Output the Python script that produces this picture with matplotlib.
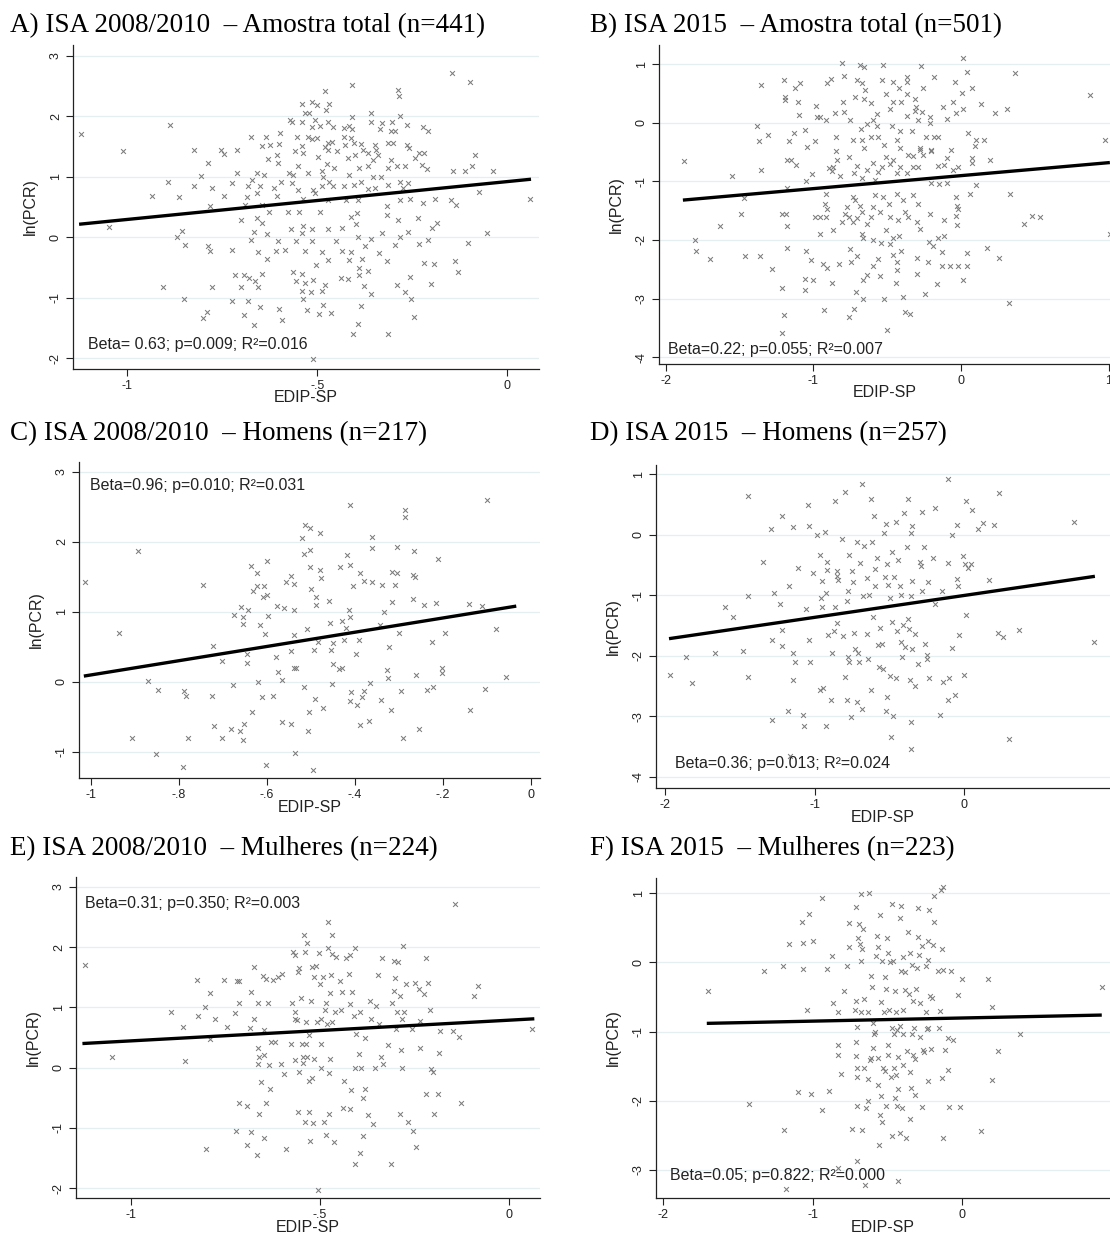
import numpy as np
import matplotlib
matplotlib.use("Agg")
import matplotlib.pyplot as plt

W, H = 1110, 1234

# ---- data (EDIP-SP, ln(PCR)) ----
a_pts = [
    (-1.122, 1.70), (-0.888, 1.86), (-1.011, 1.43), (-0.146, 2.72), (-0.098, 2.57), (-0.41, 2.51),
    (-0.479, 2.41), (-0.287, 2.44), (-0.285, 2.34), (-0.541, 2.21), (-0.513, 2.23), (-0.502, 2.19),
    (-0.469, 2.20), (-0.477, 2.10), (-0.532, 2.06), (-0.521, 2.06), (-0.36, 2.06), (-0.282, 2.01),
    (-0.41, 1.99), (-0.566, 1.90), (-0.572, 1.93), (-0.541, 1.91), (-0.506, 1.94), (-0.471, 1.90),
    (-0.458, 1.82), (-0.515, 1.82), (-0.493, 1.84), (-0.43, 1.80), (-0.418, 1.84), (-0.41, 1.79),
    (-0.358, 1.91), (-0.335, 1.79), (-0.331, 1.88), (-0.304, 1.91), (-0.306, 1.76), (-0.295, 1.75),
    (-0.265, 1.86), (-0.221, 1.82), (-0.208, 1.75), (-0.675, 1.66), (-0.634, 1.65), (-0.598, 1.72),
    (-0.554, 1.66), (-0.524, 1.66), (-0.513, 1.62), (-0.502, 1.64), (-0.429, 1.66), (-0.411, 1.64),
    (-0.471, 1.55), (-0.462, 1.58), (-0.480, 1.49), (-0.427, 1.53), (-0.405, 1.55), (-0.385, 1.54),
    (-0.646, 1.50), (-0.624, 1.53), (-0.6, 1.54), (-0.541, 1.51), (-0.824, 1.45), (-0.754, 1.45),
    (-0.745, 1.38), (-0.712, 1.44), (-0.559, 1.42), (-0.537, 1.40), (-0.499, 1.33), (-0.471, 1.44),
    (-0.449, 1.43), (-0.379, 1.44), (-0.368, 1.39), (-0.349, 1.53), (-0.345, 1.44), (-0.34, 1.36),
    (-0.314, 1.55), (-0.301, 1.55), (-0.263, 1.53), (-0.26, 1.47), (-0.232, 1.39), (-0.219, 1.39),
    (-0.085, 1.36), (-0.629, 1.29), (-0.606, 1.36), (-0.603, 1.22), (-0.42, 1.31), (-0.402, 1.36),
    (-0.355, 1.28), (-0.306, 1.28), (-0.291, 1.17), (-0.269, 1.17), (-0.243, 1.31), (-0.225, 1.20),
    (-0.092, 1.18), (-0.789, 1.23), (-0.806, 1.01), (-0.712, 1.07), (-0.66, 1.06), (-0.64, 1.03),
    (-0.575, 1.07), (-0.563, 1.03), (-0.552, 1.17), (-0.524, 1.06), (-0.489, 1.09), (-0.475, 1.21),
    (-0.484, 1.00), (-0.456, 1.14), (-0.418, 1.03), (-0.39, 1.14), (-0.368, 1.17), (-0.354, 1.00),
    (-0.332, 1.00), (-0.314, 1.14), (-0.212, 1.12), (-0.142, 1.10), (-0.111, 1.09), (-0.037, 1.09),
    (-0.894, 0.92), (-0.824, 0.85), (-0.778, 0.81), (-0.725, 0.90), (-0.673, 0.95), (-0.651, 0.84),
    (-0.682, 0.84), (-0.614, 0.81), (-0.596, 0.92), (-0.566, 0.89), (-0.552, 0.78), (-0.511, 0.78),
    (-0.489, 0.84), (-0.469, 0.92), (-0.458, 0.84), (-0.429, 0.84), (-0.405, 0.87), (-0.385, 0.92),
    (-0.366, 0.79), (-0.348, 0.81), (-0.314, 0.87), (-0.283, 0.92), (-0.275, 0.81), (-0.261, 0.89),
    (-0.076, 0.75), (-0.936, 0.68), (-0.863, 0.67), (-0.747, 0.68), (-0.686, 0.66), (-0.66, 0.73),
    (-0.607, 0.68), (-0.537, 0.64), (-0.506, 0.73), (-0.471, 0.62), (-0.425, 0.62), (-0.392, 0.62),
    (-0.283, 0.62), (-0.256, 0.64), (-0.19, 0.64), (-0.148, 0.61), (0.06, 0.64), (-0.782, 0.52),
    (-0.69, 0.53), (-0.646, 0.53), (-0.318, 0.51), (-0.223, 0.57), (-0.135, 0.53), (-0.627, 0.42),
    (-0.578, 0.41), (-0.548, 0.42), (-0.493, 0.42), (-0.396, 0.40), (-0.318, 0.37), (-0.702, 0.28),
    (-0.66, 0.31), (-0.646, 0.24), (-0.411, 0.34), (-0.289, 0.29), (-0.236, 0.31), (-0.186, 0.24),
    (-1.048, 0.17), (-0.666, 0.08), (-0.569, 0.13), (-0.539, 0.19), (-0.515, 0.13), (-0.471, 0.13),
    (-0.436, 0.15), (-0.399, 0.22), (-0.199, 0.15), (-0.857, 0.11), (-0.87, 0.0), (-0.675, -0.04),
    (-0.633, 0.06), (-0.603, -0.07), (-0.555, -0.07), (-0.541, 0.07), (-0.515, -0.07), (-0.451, -0.06),
    (-0.392, 0.0), (-0.36, -0.03), (-0.331, 0.07), (-0.282, 0.0), (-0.262, 0.08), (-0.233, -0.11),
    (-0.208, -0.04), (-0.054, 0.07), (-0.103, -0.10), (-0.848, -0.13), (-0.787, -0.14), (-0.783, -0.22),
    (-0.725, -0.21), (-0.655, -0.24), (-0.609, -0.22), (-0.586, -0.21), (-0.532, -0.22), (-0.489, -0.25),
    (-0.436, -0.22), (-0.411, -0.25), (-0.376, -0.15), (-0.339, -0.26), (-0.296, -0.13), (-0.633, -0.36),
    (-0.504, -0.46), (-0.471, -0.37), (-0.418, -0.37), (-0.383, -0.36), (-0.317, -0.39), (-0.22, -0.43),
    (-0.192, -0.44), (-0.137, -0.40), (-0.129, -0.58), (-0.39, -0.51), (-0.366, -0.55), (-0.718, -0.62),
    (-0.694, -0.62), (-0.68, -0.68), (-0.646, -0.60), (-0.563, -0.57), (-0.541, -0.61), (-0.664, -0.72),
    (-0.701, -0.82), (-0.657, -0.83), (-0.557, -0.73), (-0.532, -0.76), (-0.511, -0.71), (-0.479, -0.79),
    (-0.439, -0.68), (-0.42, -0.69), (-0.39, -0.62), (-0.377, -0.80), (-0.291, -0.79), (-0.256, -0.66),
    (-0.201, -0.77), (-0.905, -0.82), (-0.778, -0.82), (-0.541, -0.88), (-0.516, -0.91), (-0.489, -0.88),
    (-0.36, -0.94), (-0.269, -0.90), (-0.85, -1.02), (-0.725, -1.05), (-0.682, -1.06), (-0.537, -1.02),
    (-0.484, -1.12), (-0.385, -1.13), (-0.254, -1.02), (-0.791, -1.23), (-0.8, -1.34), (-0.694, -1.28),
    (-0.65, -1.16), (-0.6, -1.19), (-0.528, -1.21), (-0.496, -1.26), (-0.464, -1.25), (-0.592, -1.36),
    (-0.247, -1.31), (-0.666, -1.45), (-0.394, -1.43), (-0.407, -1.60), (-0.313, -1.60), (-0.511, -2.02),
]

b_pts = [
    (-1.88, -0.65), (-1.553, -0.91), (-1.632, -1.76), (-1.492, -1.55), (-1.474, -1.29), (-1.806, -2.0),
    (-1.795, -2.19), (-1.7, -2.33), (-1.463, -2.27), (-1.361, -2.27), (-1.384, -0.06), (-1.372, -0.32),
    (-1.305, -0.21), (-1.357, 0.64), (-1.357, -0.80), (-1.199, 0.73), (-1.192, 0.38), (-1.196, 0.43),
    (-1.108, 0.36), (-1.124, 0.59), (-1.091, 0.67), (-1.095, 0.13), (-1.135, -0.17), (-1.163, -0.32),
    (-1.181, -0.63), (-1.151, -0.63), (-1.117, -0.72), (-1.181, -1.11), (-1.214, -1.56), (-1.185, -1.56),
    (-1.181, -1.76), (-1.181, -2.14), (-1.278, -2.50), (-1.214, -2.82), (-1.203, -3.28), (-1.214, -3.59),
    (-1.056, -0.13), (-1.041, -0.41), (-0.989, -0.31), (-1.05, -0.99), (-1.011, -0.88), (-0.982, 0.28),
    (-0.977, 0.10), (-0.955, 0.09), (-0.914, 0.05), (-0.91, 0.67), (-0.883, 0.74), (-0.808, 1.01),
    (-0.792, 0.80), (-0.801, 0.36), (-0.853, 0.17), (-0.79, 0.19), (-0.752, 0.05), (-0.849, -0.24),
    (-0.849, -0.49), (-0.842, -0.63), (-0.898, -0.78), (-0.876, -0.82), (-0.865, -0.75), (-0.819, -0.91),
    (-0.914, -1.22), (-0.921, -1.38), (-0.91, -1.48), (-0.989, -1.61), (-0.955, -1.61), (-0.916, -1.61),
    (-0.865, -1.83), (-0.959, -1.90), (-1.05, -2.18), (-1.02, -2.34), (-0.932, -2.41), (-0.905, -2.47),
    (-1.054, -2.67), (-1.002, -2.69), (-1.059, -2.86), (-0.876, -2.73), (-0.928, -3.20), (-0.774, -1.43),
    (-0.785, -1.55), (-0.808, -1.69), (-0.756, -1.60), (-0.734, -1.69), (-0.707, -1.63), (-0.673, -1.52),
    (-0.639, -1.72), (-0.734, -1.26), (-0.718, -1.31), (-0.684, -1.42), (-0.725, -0.85), (-0.702, -0.74),
    (-0.673, -0.95), (-0.639, -0.80), (-0.594, -0.69), (-0.582, -0.97), (-0.56, -0.84), (-0.537, -0.75),
    (-0.51, -0.58), (-0.481, -0.70), (-0.458, -0.64), (-0.436, -0.86), (-0.413, -0.75), (-0.368, -0.86),
    (-0.357, -0.55), (-0.323, -0.75), (-0.289, -0.76), (-0.278, -0.47), (-0.255, -0.55), (-0.205, -0.48),
    (-0.205, -1.02), (-0.147, -1.05), (-0.097, -1.02), (-0.097, -0.61), (-0.153, -0.74), (-0.113, -0.72),
    (-0.068, -0.47), (-0.052, -0.80), (-0.023, -0.75), (0.102, -1.06), (0.061, -1.22), (-0.034, -1.26),
    (-0.029, -1.42), (-0.023, -1.48), (-0.036, -1.59), (-0.025, -1.74), (0.072, -0.61), (0.072, -0.68),
    (0.196, -0.63), (0.332, -1.22), (0.479, -1.59), (0.535, -1.60), (0.427, -1.72), (1.009, -1.89),
    (0.975, -0.30), (0.874, 0.47), (0.366, 0.85), (0.309, 0.24), (0.23, 0.17), (0.135, 0.32),
    (0.102, -0.30), (0.156, -0.30), (0.095, -0.40), (0.05, -0.18), (0.011, 1.11), (0.038, 0.87),
    (-0.041, 0.70), (0.005, 0.51), (0.077, 0.59), (-0.052, 0.36), (0.016, 0.24), (-0.036, 0.17),
    (-0.093, 0.07), (-0.124, 0.27), (-0.183, 0.77), (-0.271, 0.97), (-0.255, 0.59), (-0.368, 0.77),
    (-0.363, 0.70), (-0.418, 0.59), (-0.458, 0.70), (-0.537, 0.72), (-0.526, 0.98), (-0.684, 0.98),
    (-0.657, 0.95), (-0.702, 0.72), (-0.673, 0.67), (-0.648, 0.56), (-0.718, 0.44), (-0.657, 0.40),
    (-0.607, 0.34), (-0.509, 0.49), (-0.368, 0.49), (-0.463, 0.36), (-0.409, 0.36), (-0.48, 0.24),
    (-0.313, 0.40), (-0.305, 0.27), (-0.313, 0.20), (-0.262, 0.19), (-0.363, 0.11), (-0.212, 0.09),
    (-0.208, -0.01), (-0.289, 0.05), (-0.334, -0.14), (-0.413, -0.14), (-0.47, -0.06), (-0.436, -0.30),
    (-0.571, 0.15), (-0.594, 0.05), (-0.571, -0.06), (-0.639, -0.02), (-0.677, -0.11), (-0.729, -0.30),
    (-0.673, -0.30), (-0.607, -0.24), (-0.56, -0.25), (-0.521, -0.38), (-0.657, -0.44), (-0.758, -0.59),
    (-0.413, -0.44), (-0.28, -0.44), (-0.237, -0.24), (-0.183, -0.24), (-0.153, -0.25), (-0.205, -0.47),
    (-0.323, -0.57), (-0.582, -1.23), (-0.529, -1.26), (-0.491, -1.38), (-0.436, -1.22), (-0.391, -1.31),
    (-0.323, -1.23), (-0.289, -1.38), (-0.381, -1.52), (-0.481, -1.60), (-0.425, -1.66), (-0.357, -1.61),
    (-0.296, -1.70), (-0.278, -1.82), (-0.212, -1.55), (-0.113, -1.66), (-0.549, -1.53), (-0.594, -1.43),
    (-0.607, -1.60), (-0.51, -1.83), (-0.458, -1.97), (-0.418, -1.94), (-0.673, -1.89), (-0.661, -1.97),
    (-0.594, -2.0), (-0.544, -2.05), (-0.481, -2.06), (-0.407, -2.18), (-0.458, -2.26), (-0.431, -2.37),
    (-0.56, -2.33), (-0.598, -2.44), (-0.639, -2.60), (-0.666, -2.68), (-0.549, -2.61), (-0.436, -2.51),
    (-0.702, -2.28), (-0.747, -2.37), (-0.824, -2.41), (-0.754, -2.16), (-0.296, -2.31), (-0.214, -2.03),
    (-0.187, -2.11), (-0.131, -2.20), (-0.153, -1.97), (-0.115, -1.93), (-0.221, -2.37), (-0.131, -2.44),
    (-0.074, -2.44), (-0.018, -2.45), (0.038, -2.44), (0.043, -2.23), (0.178, -2.13), (0.26, -2.30),
    (0.016, -2.69), (-0.16, -2.75), (-0.3, -2.58), (-0.442, -2.73), (-0.393, -2.98), (-0.521, -3.01),
    (-0.666, -3.01), (-0.711, -2.88), (-0.725, -3.18), (-0.756, -3.32), (-0.244, -2.92), (-0.379, -3.22),
    (-0.345, -3.26), (-0.503, -3.53), (0.327, -3.07),
]

c_pts = [
    (-1.014, 1.43), (-0.892, 1.87), (-0.935, 0.69), (-0.871, 0.01), (-0.848, -0.12), (-0.907, -0.81),
    (-0.852, -1.03), (-0.791, -1.22), (-0.788, -0.13), (-0.783, -0.21), (-0.779, -0.81), (-0.745, 1.38),
    (-0.723, 0.51), (-0.724, -0.20), (-0.702, 0.29), (-0.72, -0.63), (-0.702, -0.80), (-0.681, -0.67),
    (-0.662, -0.70), (-0.655, -0.83), (-0.651, -0.60), (-0.677, -0.05), (-0.633, -0.44), (-0.674, 0.95),
    (-0.658, 1.07), (-0.654, 0.92), (-0.654, 0.83), (-0.643, 1.02), (-0.645, 0.40), (-0.645, 0.27),
    (-0.635, 1.66), (-0.623, 1.55), (-0.631, 1.30), (-0.622, 1.37), (-0.607, 1.37), (-0.608, 1.21),
    (-0.599, 1.24), (-0.599, 1.73), (-0.616, 0.81), (-0.597, 0.94), (-0.605, 0.68), (-0.619, 0.0),
    (-0.611, -0.22), (-0.587, -0.20), (-0.58, 0.35), (-0.575, 0.14), (-0.565, 0.02), (-0.578, 1.08),
    (-0.561, 1.06), (-0.557, 1.43), (-0.544, 1.51), (-0.538, 1.39), (-0.538, 1.02), (-0.538, 0.67),
    (-0.544, 0.44), (-0.538, 0.19), (-0.533, 0.19), (-0.516, -0.08), (-0.565, -0.57), (-0.544, -0.60),
    (-0.536, -1.02), (-0.601, -1.19), (-0.507, -0.71), (-0.505, -0.44), (-0.494, -1.26), (-0.49, -0.25),
    (-0.473, -0.37), (-0.493, 0.45), (-0.484, 0.57), (-0.455, 0.45), (-0.45, 0.56), (-0.449, 0.25),
    (-0.436, 0.18), (-0.43, 0.19), (-0.452, -0.03), (-0.509, 0.76), (-0.456, 0.84), (-0.489, 1.10),
    (-0.488, 1.21), (-0.499, 1.33), (-0.458, 1.16), (-0.502, 1.64), (-0.48, 1.60), (-0.476, 1.48),
    (-0.516, 1.82), (-0.502, 1.88), (-0.52, 2.06), (-0.514, 2.24), (-0.502, 2.20), (-0.478, 2.12),
    (-0.411, 2.53), (-0.417, 1.81), (-0.433, 1.64), (-0.411, 1.67), (-0.405, 1.37), (-0.388, 1.55),
    (-0.38, 1.44), (-0.36, 1.43), (-0.339, 1.38), (-0.309, 1.38), (-0.316, 1.57), (-0.304, 1.56),
    (-0.268, 1.52), (-0.264, 1.49), (-0.36, 2.07), (-0.36, 1.91), (-0.304, 1.93), (-0.266, 1.87),
    (-0.287, 2.46), (-0.286, 2.35), (-0.21, 1.75), (-0.099, 2.59), (-0.414, 1.03), (-0.411, 0.92),
    (-0.428, 0.87), (-0.419, 0.77), (-0.424, 0.60), (-0.39, 0.60), (-0.397, 0.40), (-0.333, 0.99),
    (-0.316, 1.14), (-0.268, 1.18), (-0.342, 0.81), (-0.299, 0.69), (-0.322, 0.50), (-0.242, 1.09),
    (-0.215, 1.12), (-0.141, 1.11), (-0.111, 1.08), (-0.224, 0.57), (-0.196, 0.69), (-0.078, 0.75),
    (-0.327, 0.16), (-0.325, 0.05), (-0.262, 0.09), (-0.202, 0.19), (-0.202, 0.13), (-0.056, 0.06),
    (-0.365, -0.02), (-0.378, -0.14), (-0.384, -0.22), (-0.408, -0.15), (-0.411, -0.27), (-0.394, -0.33),
    (-0.341, -0.26), (-0.318, -0.40), (-0.295, -0.13), (-0.236, -0.12), (-0.222, -0.08), (-0.103, -0.10),
    (-0.137, -0.40), (-0.388, -0.62), (-0.367, -0.56), (-0.253, -0.67), (-0.291, -0.80),
]

d_pts = [
    (-1.967, -2.32), (-1.822, -2.46), (-1.86, -2.03), (-1.666, -1.95), (-1.599, -1.20), (-1.548, -1.37),
    (-1.481, -1.92), (-1.448, -2.35), (-1.448, 0.64), (-1.443, -1.01), (-1.347, -0.45), (-1.292, 0.09),
    (-1.287, -1.74), (-1.287, -3.07), (-1.27, -0.96), (-1.232, -1.15), (-1.221, 0.30), (-1.221, -1.57),
    (-1.221, -1.84), (-1.171, -0.85), (-1.176, -2.91), (-1.147, 0.12), (-1.143, -1.95), (-1.132, -2.10),
    (-1.143, -2.40), (-1.114, -0.56), (-1.076, -2.98), (-1.071, -3.16), (-1.06, -1.23), (-1.047, 0.49),
    (-1.038, 0.14), (-1.038, -1.74), (-1.031, -2.11), (-1.011, -0.64), (-0.984, -0.01), (-0.964, -0.34),
    (-0.966, -2.56), (-0.942, -2.54), (-0.96, -1.04), (-0.953, -1.20), (-0.953, -0.76), (-0.933, 0.05),
    (-0.927, -0.96), (-0.927, -3.16), (-0.92, -0.45), (-0.915, -0.58), (-0.891, -2.74), (-0.882, -1.96),
    (-0.864, 0.55), (-0.864, -1.20), (-0.853, -1.46), (-0.853, -0.61), (-0.853, -0.69), (-0.846, -0.75),
    (-0.909, -1.66), (-0.869, -1.59), (-0.82, -0.08), (-0.811, -1.67), (-0.798, 0.71), (-0.8, -2.35),
    (-0.784, -2.74), (-0.775, -0.94), (-0.782, -1.09), (-0.771, -0.34), (-0.775, -2.03), (-0.769, -2.11),
    (-0.76, -3.01), (-0.748, -0.61), (-0.742, -0.79), (-0.738, -1.63), (-0.731, -1.89), (-0.719, -0.12),
    (-0.719, -2.76), (-0.713, -1.96), (-0.704, -2.10), (-0.697, -0.47), (-0.686, 0.84), (-0.686, -2.89),
    (-0.675, -1.01), (-0.668, -0.19), (-0.65, -0.72), (-0.648, -1.65), (-0.641, -2.06), (-0.637, -1.00),
    (-0.624, 0.58), (-0.624, -2.56), (-0.619, -0.12), (-0.608, -1.37), (-0.601, 0.31), (-0.597, -0.85),
    (-0.597, -0.57), (-0.586, -0.39), (-0.579, -1.82), (-0.57, -2.18), (-0.563, -1.55), (-0.548, -1.81),
    (-0.541, -2.22), (-0.535, 0.03), (-0.53, -0.70), (-0.526, 0.18), (-0.519, -2.69), (-0.513, -0.48),
    (-0.508, -0.83), (-0.526, -2.92), (-0.497, -1.04), (-0.497, -2.33), (-0.492, -3.35), (-0.486, -0.28),
    (-0.486, -1.44), (-0.474, -3.0), (-0.468, -0.70), (-0.459, 0.20), (-0.454, -2.37), (-0.448, -1.60),
    (-0.443, -0.42), (-0.432, -0.85), (-0.421, -1.00), (-0.421, -1.78), (-0.416, -2.03), (-0.41, -1.49),
    (-0.403, 0.35), (-0.394, -1.85), (-0.381, -0.21), (-0.379, 0.58), (-0.376, -1.40), (-0.369, -1.56),
    (-0.356, 0.03), (-0.347, 0.14), (-0.36, -2.40), (-0.356, -1.01), (-0.356, -3.09), (-0.356, -3.55),
    (-0.347, -1.89), (-0.347, -0.76), (-0.332, -1.64), (-0.332, -2.50), (-0.307, -2.14), (-0.296, -0.45),
    (-0.289, -0.52), (-0.285, 0.38), (-0.281, -0.93), (-0.267, -0.21), (-0.263, -1.80), (-0.252, -1.99),
    (-0.252, -2.06), (-0.245, -0.78), (-0.236, -2.37), (-0.207, -0.39), (-0.196, 0.44), (-0.196, -1.15),
    (-0.163, -2.98), (-0.151, -0.93), (-0.14, -2.43), (-0.111, 0.91), (-0.111, -0.47), (-0.107, -2.74),
    (-0.102, -2.37), (-0.085, -0.01), (-0.08, -1.88), (-0.062, -2.65), (-0.051, 0.16), (-0.051, -0.74),
    (-0.045, -0.85), (-0.036, -1.66), (-0.007, -0.35), (0.0, -2.32), (0.004, -0.48), (0.009, 0.55),
    (0.009, -1.33), (0.027, -0.56), (0.045, -0.48), (0.053, 0.41), (0.094, 0.09), (0.127, 0.19),
    (0.167, -0.75), (0.198, 0.16), (0.234, 0.69), (0.227, -1.63), (0.261, -1.70), (0.298, -3.38),
    (0.367, -1.57), (0.735, 0.21), (0.869, -1.78), (-1.165, -3.66),
]

e_pts = [
    (-1.122, 1.71), (-1.05, 0.17), (-0.893, 0.92), (-0.863, 0.67), (-0.856, 0.11), (-0.823, 0.85),
    (-0.824, 1.45), (-0.805, 1.01), (-0.801, -1.35), (-0.79, 1.23), (-0.79, 0.47), (-0.777, 0.81),
    (-0.753, 1.45), (-0.746, 0.68), (-0.724, 0.90), (-0.72, 1.43), (-0.714, 1.07), (-0.714, 1.44),
    (-0.722, -1.05), (-0.715, -0.59), (-0.693, -0.63), (-0.693, -1.28), (-0.684, 0.66), (-0.681, 1.26),
    (-0.681, -1.06), (-0.674, 1.67), (-0.675, 0.81), (-0.667, -1.45), (-0.664, 0.32), (-0.663, 1.07),
    (-0.661, 0.18), (-0.663, 0.06), (-0.66, -0.77), (-0.656, -0.24), (-0.649, 0.21), (-0.651, 1.52),
    (-0.649, -1.16), (-0.647, 0.62), (-0.643, -0.59), (-0.643, 1.47), (-0.638, 1.07), (-0.634, 0.04),
    (-0.632, -0.35), (-0.629, 0.43), (-0.623, 1.45), (-0.62, 0.42), (-0.61, 1.51), (-0.603, 0.06),
    (-0.599, 1.55), (-0.594, -0.11), (-0.59, -1.35), (-0.576, 0.40), (-0.573, 1.07), (-0.57, 1.92),
    (-0.567, 1.86), (-0.567, 0.93), (-0.565, 0.81), (-0.565, 0.13), (-0.561, 0.79), (-0.559, 1.58),
    (-0.555, 1.66), (-0.557, -0.74), (-0.555, -0.07), (-0.55, 1.16), (-0.548, 0.40), (-0.544, 0.17),
    (-0.544, 0.07), (-0.541, 2.20), (-0.539, 1.91), (-0.539, -0.90), (-0.537, 0.76), (-0.537, 0.40),
    (-0.533, 2.06), (-0.533, 0.18), (-0.53, -0.22), (-0.53, -0.74), (-0.529, 0.54), (-0.526, -1.22),
    (-0.523, 1.10), (-0.522, 1.67), (-0.52, -0.17), (-0.517, -0.92), (-0.515, 1.51), (-0.515, 0.14),
    (-0.511, 1.69), (-0.508, 0.76), (-0.506, -2.03), (-0.502, 1.90), (-0.501, 1.38), (-0.497, 0.0),
    (-0.497, 0.40), (-0.496, 0.81), (-0.493, 1.51), (-0.488, -0.90), (-0.486, 0.96), (-0.485, 1.07),
    (-0.485, -1.12), (-0.482, 0.72), (-0.479, 1.99), (-0.478, 2.42), (-0.476, -0.09), (-0.476, -0.77),
    (-0.474, 1.23), (-0.474, 0.14), (-0.471, 1.54), (-0.469, 2.20), (-0.469, 1.88), (-0.467, 0.75),
    (-0.464, -1.23), (-0.46, 0.92), (-0.457, 1.84), (-0.446, 1.44), (-0.444, 0.96), (-0.441, 1.25),
    (-0.438, -0.67), (-0.435, -0.22), (-0.432, 1.81), (-0.424, 1.55), (-0.421, 1.86), (-0.421, 1.05),
    (-0.421, -0.69), (-0.418, -0.37), (-0.414, 1.25), (-0.411, 0.85), (-0.408, 1.99), (-0.408, 0.0),
    (-0.406, -1.60), (-0.404, 0.55), (-0.397, 0.22), (-0.395, -1.42), (-0.394, 0.93), (-0.391, 0.0),
    (-0.387, -0.51), (-0.385, -1.13), (-0.382, -0.35), (-0.381, 0.50), (-0.372, -0.78), (-0.367, 1.10),
    (-0.365, 0.81), (-0.359, -0.94), (-0.354, -0.01), (-0.352, 1.03), (-0.347, 1.54), (-0.345, 0.72),
    (-0.338, 0.17), (-0.335, 1.81), (-0.332, 0.06), (-0.319, 0.38), (-0.312, -1.60), (-0.309, 1.08),
    (-0.303, 1.77), (-0.303, 1.27), (-0.301, 1.48), (-0.3, 0.64), (-0.297, 0.92), (-0.294, 1.75),
    (-0.288, 1.18), (-0.288, -0.77), (-0.285, 0.29), (-0.284, 0.0), (-0.282, 0.81), (-0.279, 2.01),
    (-0.277, 0.93), (-0.273, 1.38), (-0.268, -0.90), (-0.257, 0.64), (-0.253, -1.05), (-0.248, 1.40),
    (-0.247, -1.31), (-0.238, 1.31), (-0.235, 0.32), (-0.235, 0.77), (-0.226, 1.22), (-0.219, 1.82),
    (-0.219, -0.43), (-0.215, 1.40), (-0.209, 0.96), (-0.206, -0.02), (-0.2, -0.07), (-0.197, -0.77),
    (-0.189, -0.44), (-0.185, 0.24), (-0.182, 0.61), (-0.144, 2.72), (-0.147, 0.61), (-0.132, 0.51),
    (-0.127, -0.59), (-0.092, 1.18), (-0.083, 1.36), (0.062, 0.64),
]

f_pts = [
    (-1.695, -0.41), (-1.422, -2.05), (-1.321, -0.12), (-1.199, -0.05), (-1.19, -2.42), (-1.177, -3.27),
    (-1.155, 0.26), (-1.095, -1.87), (-1.068, 0.59), (-1.061, 0.28), (-1.066, -0.10), (-1.039, -0.68),
    (-1.021, 0.70), (-1.01, -1.90), (-0.994, 0.31), (-0.939, 0.93), (-0.939, -2.13), (-0.901, -0.09),
    (-0.888, -1.86), (-0.868, 0.09), (-0.861, -0.58), (-0.828, -1.19), (-0.828, -1.34), (-0.828, -0.72),
    (-0.832, -2.97), (-0.81, -1.61), (-0.788, -0.41), (-0.772, -0.05), (-0.754, 0.23), (-0.754, 0.57),
    (-0.739, -2.41), (-0.717, -0.69), (-0.712, 0.80), (-0.712, -1.15), (-0.71, -1.35), (-0.708, -0.56),
    (-0.701, -0.93), (-0.701, -1.53), (-0.701, -1.65), (-0.701, -2.07), (-0.701, -2.87), (-0.697, 0.35),
    (-0.692, 0.55), (-0.686, 0.26), (-0.679, 0.99), (-0.679, 0.02), (-0.679, -0.72), (-0.672, 0.19),
    (-0.667, -2.42), (-0.663, 0.48), (-0.654, -1.52), (-0.654, -0.53), (-0.652, -3.22), (-0.643, -2.11),
    (-0.632, -0.72), (-0.632, -1.69), (-0.628, -2.0), (-0.621, 1.01), (-0.616, -1.41), (-0.61, -0.19),
    (-0.61, -1.38), (-0.605, -0.35), (-0.594, -0.88), (-0.594, -1.23), (-0.587, -1.04), (-0.583, -1.01),
    (-0.578, 0.10), (-0.572, 0.38), (-0.565, -1.38), (-0.563, 0.23), (-0.563, -1.77), (-0.556, -2.64),
    (-0.55, 0.68), (-0.55, -2.20), (-0.545, -0.57), (-0.543, -1.93), (-0.538, 0.02), (-0.538, -2.31),
    (-0.527, -1.53), (-0.52, -0.72), (-0.516, -0.21), (-0.516, -1.57), (-0.512, -2.07), (-0.509, -0.38),
    (-0.505, 0.36), (-0.498, 0.14), (-0.498, -1.34), (-0.494, -1.19), (-0.489, -0.69), (-0.483, 0.0),
    (-0.478, -1.65), (-0.472, -0.94), (-0.467, 0.84), (-0.467, -2.51), (-0.461, 0.02), (-0.454, -1.52),
    (-0.454, -1.04), (-0.45, -0.41), (-0.45, -1.96), (-0.445, -0.71), (-0.445, -1.62), (-0.439, -2.07),
    (-0.434, -0.98), (-0.43, -1.36), (-0.43, -1.83), (-0.419, 0.65), (-0.419, -0.92), (-0.417, -2.46),
    (-0.412, 0.82), (-0.412, -0.13), (-0.405, -2.11), (-0.398, 0.08), (-0.398, -1.48), (-0.394, -0.69),
    (-0.394, -1.04), (-0.383, -0.14), (-0.383, -0.40), (-0.378, -2.54), (-0.372, -1.28), (-0.365, 0.44),
    (-0.356, -0.45), (-0.349, 0.14), (-0.349, -1.59), (-0.349, -2.26), (-0.343, -1.81), (-0.338, -1.04),
    (-0.334, -0.04), (-0.327, -0.56), (-0.327, -1.33), (-0.32, -0.95), (-0.318, -1.40), (-0.314, -1.91),
    (-0.307, -0.39), (-0.303, -0.08), (-0.294, 0.37), (-0.294, 0.79), (-0.29, 0.11), (-0.285, -0.59),
    (-0.285, -1.07), (-0.271, -2.09), (-0.271, 0.24), (-0.26, -1.27), (-0.254, -1.29), (-0.245, -0.05),
    (-0.242, -0.72), (-0.238, -0.96), (-0.231, 0.31), (-0.231, 0.03), (-0.231, -1.72), (-0.227, -0.94),
    (-0.222, 0.76), (-0.216, -0.48), (-0.209, -1.25), (-0.205, -0.51), (-0.196, 0.25), (-0.187, 0.96),
    (-0.187, 0.58), (-0.165, -0.13), (-0.156, -0.94), (-0.149, -0.70), (-0.142, 1.05), (-0.133, -1.67),
    (-0.127, 1.09), (-0.133, 0.20), (-0.127, -2.53), (-0.127, -0.11), (-0.116, -1.27), (-0.098, -1.09),
    (-0.098, -1.56), (-0.089, -2.09), (-0.076, -0.13), (-0.06, -1.12), (-0.031, -0.47), (-0.016, -2.09),
    (-0.004, -0.24), (0.125, -2.44), (0.169, -0.24), (0.196, -0.64), (0.2, -1.70), (0.24, -1.28),
    (0.385, -1.04), (0.93, -0.36), (-0.43, -3.16),
]

# fitted lines, endpoints as drawn
a_line = ([-1.127, 0.062], [0.215, 0.959])
b_line = ([-1.885, 1.009], [-1.32, -0.68])
c_line = ([-1.016, -0.033], [0.08, 1.08])
d_line = ([-1.973, 0.873], [-1.72, -0.69])
e_line = ([-1.128, 0.067], [0.40, 0.81])
f_line = ([-1.706, 0.93], [-0.88, -0.76])

titles = [
    "A) ISA 2008/2010  \u2013 Amostra total (n=441)",
    "B) ISA 2015  \u2013 Amostra total (n=501)",
    "C) ISA 2008/2010  \u2013 Homens (n=217)",
    "D) ISA 2015  \u2013 Homens (n=257)",
    "E) ISA 2008/2010  \u2013 Mulheres (n=224)",
    "F) ISA 2015  \u2013 Mulheres (n=223)",
]
stats = [
    "Beta= 0.63; p=0.009; R\u00b2=0.016",
    "Beta=0.22; p=0.055; R\u00b2=0.007",
    "Beta=0.96; p=0.010; R\u00b2=0.031",
    "Beta=0.36; p=0.013; R\u00b2=0.024",
    "Beta=0.31; p=0.350; R\u00b2=0.003",
    "Beta=0.05; p=0.822; R\u00b2=0.000",
]

xt_half = [-1, -0.5, 0]
xt_half_lab = ["-1", "-.5", "0"]
xt_fifth = [-1, -0.8, -0.6, -0.4, -0.2, 0]
xt_fifth_lab = ["-1", "-.8", "-.6", "-.4", "-.2", "0"]
xt_unit = [-2, -1, 0, 1]
xt_unit_lab = ["-2", "-1", "0", "1"]

# layout: pixel box (left, top, right, bottom), limits, ticks, stat position
panels = [
    dict(pts=a_pts, line=a_line, box=(73, 45, 539, 369), xlim=(-1.143, 0.083), ylim=(-2.177, 3.177),
         xt=xt_half, xtl=xt_half_lab, yt=range(-2, 4), stat_pos=(0.032, 0.077), title_xy=(10, 26)),
    dict(pts=b_pts, line=b_line, box=(659, 45, 1110, 364), xlim=(-2.047, 1.010), ylim=(-4.114, 1.324),
         xt=xt_unit, xtl=xt_unit_lab, yt=range(-4, 2), stat_pos=(0.02, 0.047), title_xy=(590, 26)),
    dict(pts=c_pts, line=c_line, box=(79, 462, 540, 778), xlim=(-1.027, 0.021), ylim=(-1.376, 3.139),
         xt=xt_fifth, xtl=xt_fifth_lab, yt=range(-1, 4), stat_pos=(0.024, 0.927), title_xy=(10, 434)),
    dict(pts=d_pts, line=d_line, box=(656, 465, 1110, 788), xlim=(-2.06, 0.974), ylim=(-4.187, 1.149),
         xt=xt_unit[:3], xtl=xt_unit_lab[:3], yt=range(-4, 2), stat_pos=(0.042, 0.077), title_xy=(590, 434)),
    dict(pts=e_pts, line=e_line, box=(76, 877, 540, 1198), xlim=(-1.145, 0.082), ylim=(-2.161, 3.161),
         xt=xt_half, xtl=xt_half_lab, yt=range(-2, 4), stat_pos=(0.019, 0.916), title_xy=(10, 849)),
    dict(pts=f_pts, line=f_line, box=(656, 878, 1110, 1198), xlim=(-2.045, 0.985), ylim=(-3.404, 1.221),
         xt=xt_unit[:3], xtl=xt_unit_lab[:3], yt=range(-3, 2), stat_pos=(0.031, 0.069), title_xy=(590, 849)),
]

SANS = "Liberation Sans"
SERIF = "Liberation Serif"
GRID = "#e6eff0"
MARK = "#7c7c7c"

fig = plt.figure(figsize=(W / 100, H / 100), dpi=100)
fig.patch.set_facecolor("white")

for i, p in enumerate(panels):
    l, t, r, b = p["box"]
    ax = fig.add_axes([l / W, 1 - b / H, (r - l) / W, (b - t) / H])
    ax.set_xlim(*p["xlim"])
    ax.set_ylim(*p["ylim"])

    pts = np.array(p["pts"])
    ax.scatter(pts[:, 0], pts[:, 1], marker="x", s=12, linewidths=0.75, color=MARK, zorder=2)
    ax.plot(p["line"][0], p["line"][1], color="black", linewidth=2.4, solid_capstyle="butt", zorder=3)

    ax.set_yticks(list(p["yt"]))
    ax.set_yticklabels([str(v) for v in p["yt"]])
    ax.set_xticks(p["xt"])
    ax.set_xticklabels(p["xtl"])
    ax.yaxis.grid(True, color=GRID, linewidth=0.9)
    ax.set_axisbelow(True)

    for s in ("top", "right"):
        ax.spines[s].set_visible(False)
    for s in ("left", "bottom"):
        ax.spines[s].set_linewidth(0.9)
        ax.spines[s].set_color("#222222")

    ax.tick_params(axis="both", direction="out", length=5, width=0.8, colors="#222222",
                   labelsize=9, pad=3)
    ax.tick_params(axis="y", labelrotation=90)
    for lab in ax.get_yticklabels():
        lab.set_verticalalignment("center")
        lab.set_fontfamily(SANS)
    for lab in ax.get_xticklabels():
        lab.set_fontfamily(SANS)

    ax.text(p["stat_pos"][0], p["stat_pos"][1], stats[i], transform=ax.transAxes,
            fontsize=11.5, family=SANS, color="#222222", ha="left", va="center")

    # axis titles
    cx = (l + r) / 2
    cy = (t + b) / 2
    fig.text(cx / W, 1 - (b + 29) / H, "EDIP-SP", fontsize=11.5, family=SANS,
             ha="center", va="center", color="#222222")
    fig.text((l - 43) / W, 1 - cy / H, "ln(PCR)", fontsize=11.5, family=SANS, rotation=90,
             ha="center", va="center", color="#222222")

    tx, ty = p["title_xy"]
    fig.text(tx / W, 1 - ty / H, titles[i], fontsize=19.5, family=SERIF,
             ha="left", va="center", color="black")

fig.savefig("out.png", dpi=100, facecolor="white")
